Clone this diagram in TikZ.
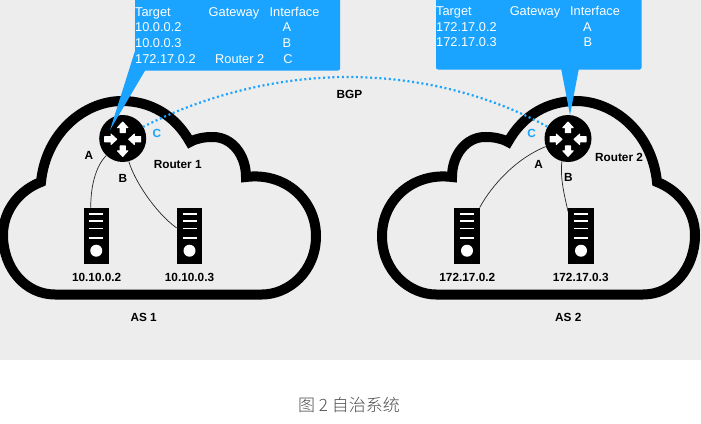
\documentclass[tikz,border=0pt]{standalone}
\usepackage{fontspec}
\setmainfont{Liberation Sans}
\newfontfamily\cjkfont{Noto Sans CJK SC Light}
\definecolor{bgc}{HTML}{EDEDED}
\definecolor{bluec}{HTML}{1AA3FF}
\definecolor{capc}{HTML}{4D4D4D}
\tikzset{
  cloudline/.style={draw=black,line width=10pt,miter limit=10,line join=miter},
  lab/.style={inner sep=0pt,font=\fontsize{11.8}{12}\selectfont\bfseries,text height=8.5pt,text depth=0pt,text=black},
  bluelab/.style={lab,text=bluec},
  cell/.style={inner sep=0pt,font=\fontsize{12.8}{13}\selectfont,text height=9.2pt,text depth=0pt,text=white},
  callout/.style={fill=bluec,rounded corners=2pt},
  routernode/.style={circle,fill=black,draw=none,minimum size=47pt,inner sep=0pt},
  servernode/.style={rectangle,fill=black,draw=none,minimum width=25.5pt,minimum height=56.5pt,inner sep=0pt},
  link/.style={draw=black!85,line width=.7pt},
  bgp/.style={draw=bluec,line width=2.2pt,dash pattern=on 2pt off 2.7pt}
}
\newcommand{\cloudshape}{%
  (41,182) .. controls (46,132) and (85,101) .. (122,101)
  .. controls (150,101) and (175,115) .. (190,142)
  .. controls (197,138) and (205,137) .. (213,137)
  .. controls (232,137) and (246,155) .. (246,177)
  .. controls (285,172) and (316,200) .. (316,236)
  .. controls (316,272) and (288,294.5) .. (262,294.5)
  -- (55,294.5)
  .. controls (25,294.5) and (3,268) .. (3,235)
  .. controls (3,210) and (20,190) .. (41,182) -- cycle}
\newcommand{\routerglyph}[1]{%
  \begin{scope}[shift={(#1)},fill=white,line join=round,draw=white,line width=1pt]
    \filldraw (0,-16.5)--(5.2,-10.8)--(2.6,-10.8)--(2.6,-6)--(-2.6,-6)--(-2.6,-10.8)--(-5.2,-10.8)--cycle;
    \filldraw (0,18)--(5.2,12.3)--(2.6,12.3)--(2.6,7.4)--(-2.6,7.4)--(-2.6,12.3)--(-5.2,12.3)--cycle;
    \filldraw (-6,.8)--(-11.7,6)--(-11.7,3.4)--(-18,3.4)--(-18,-1.8)--(-11.7,-1.8)--(-11.7,-4.4)--cycle;
    \filldraw (6,.8)--(11.7,6)--(11.7,3.4)--(18,3.4)--(18,-1.8)--(11.7,-1.8)--(11.7,-4.4)--cycle;
  \end{scope}}
\newcommand{\serverglyph}[1]{%
  \begin{scope}[shift={(#1)}]
    \foreach \yy in {-22,-15,-7.7,1.7}{\draw[white,line width=1.6pt] (-7,\yy)--(7,\yy);}
    \fill[white] (0,14.7) circle (6pt);
  \end{scope}}
\begin{document}
\begin{tikzpicture}[x=1pt,y=-1pt]
\useasboundingbox (0,0) rectangle (701,423);
\clip (0,0) rectangle (701,423);
\fill[bgc] (0,0) rectangle (701,360);
% clouds
\draw[cloudline] \cloudshape;
\begin{scope}[xshift=698pt,xscale=-1]
\draw[cloudline] \cloudshape;
\end{scope}
% routers
\node[routernode] (r1) at (122.7,138.5) {};
\node[routernode] (r2) at (568,138.5) {};
\routerglyph{122.7,138.5}
\routerglyph{568,138.5}
% servers
\node[servernode] (s1) at (96.25,236) {};
\node[servernode] (s2) at (189.5,236) {};
\node[servernode] (s3) at (467,236) {};
\node[servernode] (s4) at (581,236) {};
\serverglyph{96.25,236}
\serverglyph{189.5,236}
\serverglyph{467,236}
\serverglyph{581,236}
% links
\draw[link] (r1.226) .. controls +(-9,9) and +(0,-25) .. (s1.101.6);
\draw[link] (r1.285) .. controls +(5,18) and +(-22,-16) .. (s2.148.4);
\draw[link] (r2.200) .. controls +(-30,12) and +(12,-22) .. (s3.66.8);
\draw[link] (r2.255) .. controls +(-2,18) and +(-3,-14) .. (s4.118.4);
% BGP
\path[bgp] (143,127) .. controls (215,90) and (290,77) .. (347,77)
  .. controls (420,77) and (490,95) .. (548,127);
% callouts
\fill[bluec] (135,51) -- (110,130) -- (146,69) -- cycle;
\fill[callout] (135,-6) rectangle (340,70.5);
\fill[bluec] (561,68) -- (570,115) -- (579,68) -- cycle;
\fill[callout] (436,-6) rectangle (641.5,69.5);
% table 1
\node[cell,anchor=west] (t1a) at (135,11.7) {Target};
\node[cell] (t1b) at (234,11.7) {Gateway};
\node[cell] (t1c) at (294.5,11.7) {Interface};
\node[cell,anchor=west] (t1d) at (135,27.3) {10.0.0.2};
\node[cell] (t1e) at (287,27.3) {A};
\node[cell,anchor=west] (t1f) at (135,43) {10.0.0.3};
\node[cell] (t1g) at (287,43) {B};
\node[cell,anchor=west] (t1h) at (135,59) {172.17.0.2};
\node[cell] (t1i) at (239.7,59) {Router 2};
\node[cell] (t1j) at (288,59) {C};
% table 2
\node[cell,anchor=west] (t2a) at (436,10.7) {Target};
\node[cell] (t2b) at (535,10.7) {Gateway};
\node[cell] (t2c) at (595,10.7) {Interface};
\node[cell,anchor=west] (t2d) at (436,26.5) {172.17.0.2};
\node[cell] (t2e) at (587.5,26.5) {A};
\node[cell,anchor=west] (t2f) at (436,42.3) {172.17.0.3};
\node[cell] (t2g) at (588,42.3) {B};
% labels
\node[lab] (la1) at (89,155) {A};
\node[lab] (lb1) at (123,178) {B};
\node[bluelab] (lc1) at (157,133) {C};
\node[lab] (ln1) at (177.7,164) {Router 1};
\node[lab] (la2) at (538.7,164) {A};
\node[lab] (lb2) at (568.3,177.7) {B};
\node[bluelab] (lc2) at (531.7,133) {C};
\node[lab] (ln2) at (619,157) {Router 2};
\node[lab] (lbgp) at (349.5,94) {BGP};
\node[lab] (ls1) at (96.7,277.3) {10.10.0.2};
\node[lab] (ls2) at (189.5,277.3) {10.10.0.3};
\node[lab] (ls3) at (467.3,277.3) {172.17.0.2};
\node[lab] (ls4) at (580.7,277.3) {172.17.0.3};
\node[lab] (las1) at (143.7,317.7) {AS 1};
\node[lab] (las2) at (568.3,317.7) {AS 2};
\node[inner sep=0pt,text=capc,font=\cjkfont\fontsize{17}{18}\selectfont] (cap) at (349,405) {图 2 自治系统};
\end{tikzpicture}
\end{document}
